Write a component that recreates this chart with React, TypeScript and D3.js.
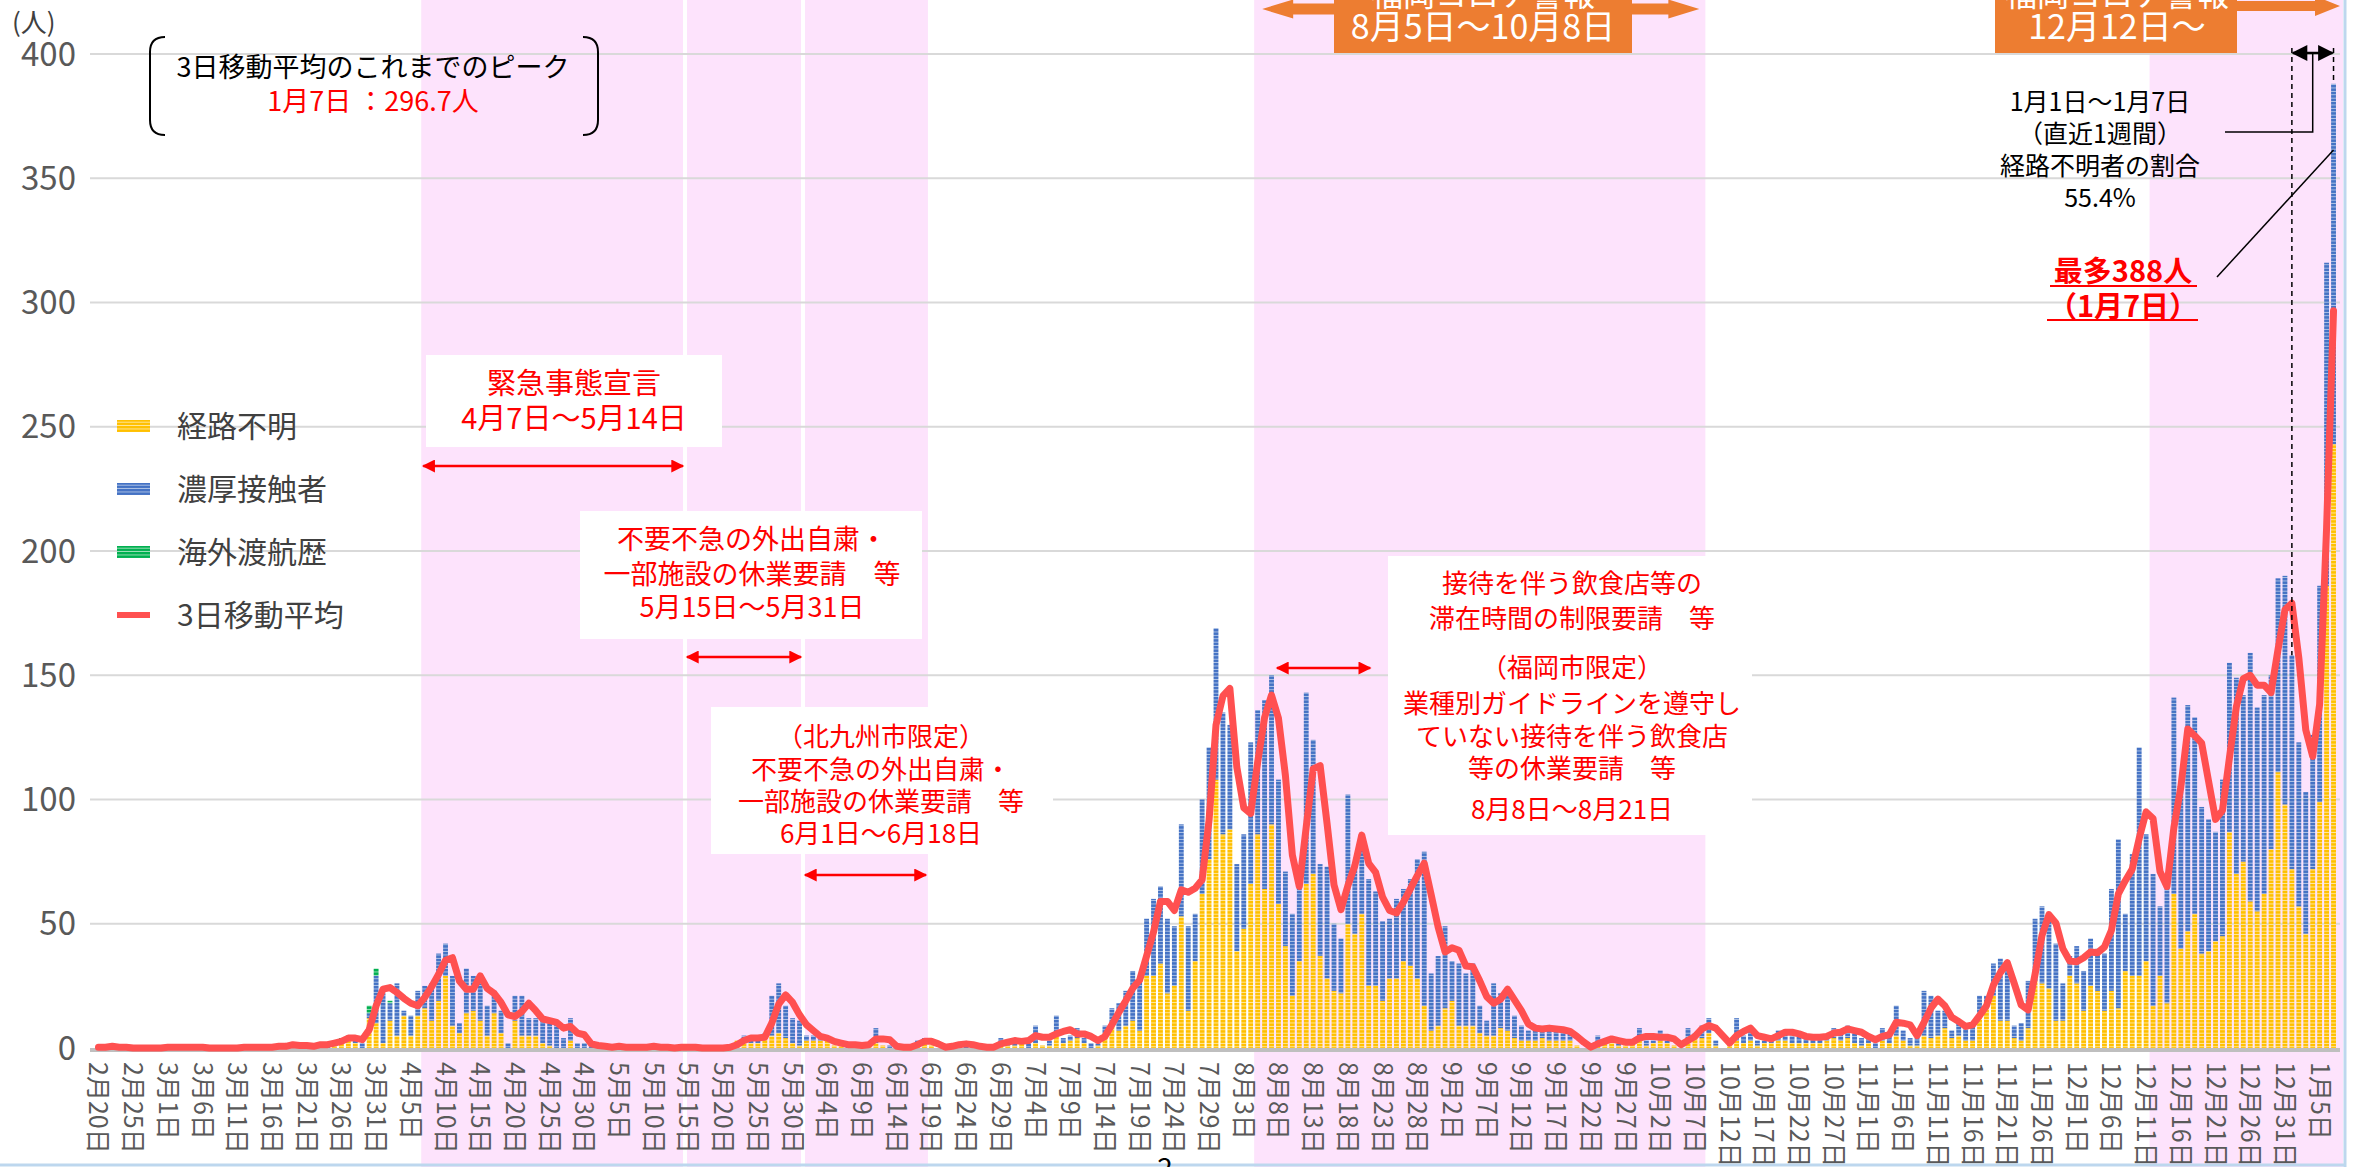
import { useMemo } from "react";
import * as d3 from "d3";

const WIDTH = 2358;
const HEIGHT = 1167;
const PLOT = { left: 95, right: 2337, top: 54, bottom: 1048 };

const FIRST_DAY = new Date(2020, 1, 20);
const LAST_DAY = new Date(2021, 0, 7);

// 経路不明 : one value per day, Feb 20 2020 -> Jan 7 2021
const unknownCases = [
  // Feb
  1, 0, 0, 0, 0, 0, 0, 0, 0, 0,
  // Mar
  1, 0, 0, 0, 0, 0, 0, 0, 0, 0, 0, 1, 0, 0, 0, 0, 1, 0, 1, 0, 0, 1, 1, 0, 2, 2, 3, 2, 0, 12, 10,
  // Apr
  2, 11, 5, 13, 5, 13, 16, 11, 19, 29, 9, 6, 14, 15, 11, 5, 14, 6, 0, 11, 5, 5, 5, 2, 1, 0, 0, 3, 0, 0,
  // May
  0, 0, 1, 0, 0, 0, 0, 1, 0, 0, 0, 0, 0, 1, 0, 0, 0, 0, 0, 0, 1, 3, 3, 2, 2, 4, 5, 6, 4, 2, 1,
  // Jun
  3, 3, 3, 3, 1, 2, 0, 1, 1, 1, 2, 1, 0, 0, 0, 1, 2, 2, 1, 0, 0, 2, 1, 0, 1, 0, 0, 0, 1, 1,
  // Jul
  1, 2, 0, 2, 1, 1, 6, 2, 3, 4, 2, 0, 1, 6, 9, 7, 9, 11, 7, 29, 29, 34, 22, 25, 53, 15, 35, 62, 76, 108, 86,
  // Aug
  88, 39, 48, 66, 86, 64, 90, 58, 41, 21, 35, 66, 70, 37, 28, 23, 22, 50, 46, 54, 25, 25, 19, 28, 28, 35, 33, 28, 17, 7, 9,
  // Sep
  16, 19, 9, 9, 9, 6, 5, 5, 8, 7, 4, 3, 3, 3, 4, 3, 3, 3, 3, 1, 0, 0, 2, 2, 2, 1, 1, 2, 3, 1,
  // Oct
  2, 3, 2, 1, 0, 4, 4, 4, 6, 1, 0, 2, 3, 2, 3, 1, 2, 2, 3, 3, 2, 2, 2, 2, 2, 3, 4, 3, 4, 2, 1,
  // Nov
  2, 0, 3, 2, 5, 3, 1, 1, 5, 4, 5, 8, 4, 5, 3, 3, 13, 16, 21, 11, 11, 4, 3, 8, 27, 26, 24, 11, 11, 29,
  // Dec
  26, 15, 25, 23, 15, 23, 16, 31, 29, 29, 35, 17, 29, 18, 62, 40, 47, 54, 38, 39, 43, 45, 87, 70, 75, 59, 55, 62, 80, 111, 98,
  // Jan
  72, 57, 46, 72, 99, 186, 243,
];

// 濃厚接触者
const contactCases = [
  // Feb
  0, 0, 1, 0, 0, 0, 0, 0, 0, 0,
  // Mar
  0, 0, 0, 1, 0, 0, 0, 0, 0, 0, 0, 0, 0, 0, 1, 0, 0, 1, 1, 0, 1, 0, 1, 1, 1, 1, 0, 1, 2, 2, 19,
  // Apr
  20, 7, 21, 2, 8, 10, 9, 15, 19, 13, 20, 4, 18, 14, 15, 12, 9, 9, 2, 10, 16, 7, 7, 9, 9, 10, 4, 9, 2, 2,
  // May
  1, 0, 0, 0, 1, 0, 0, 0, 0, 1, 0, 0, 0, 0, 0, 0, 0, 0, 0, 0, 0, 0, 2, 2, 1, 2, 16, 20, 13, 10, 10,
  // Jun
  2, 2, 1, 0, 0, 0, 1, 0, 0, 1, 6, 0, 1, 0, 0, 0, 1, 2, 0, 0, 0, 0, 1, 1, 0, 0, 0, 1, 3, 1,
  // Jul
  2, 1, 3, 7, 0, 2, 7, 2, 2, 4, 2, 2, 2, 3, 7, 11, 14, 20, 21, 23, 31, 31, 30, 24, 37, 34, 19, 38, 45, 61, 49,
  // Aug
  42, 35, 38, 57, 50, 76, 60, 50, 30, 33, 35, 77, 54, 37, 45, 27, 22, 52, 28, 27, 43, 38, 32, 24, 32, 29, 35, 48, 62, 23, 28,
  // Sep
  33, 16, 25, 21, 25, 11, 6, 21, 14, 16, 9, 6, 4, 5, 4, 5, 4, 4, 3, 0, 0, 0, 3, 1, 1, 2, 0, 1, 5, 2,
  // Oct
  1, 4, 1, 0, 0, 4, 2, 5, 6, 2, 0, 1, 9, 3, 4, 2, 1, 3, 4, 4, 3, 3, 2, 2, 3, 2, 4, 3, 5, 4, 3,
  // Nov
  2, 2, 5, 4, 12, 4, 3, 3, 18, 17, 10, 7, 3, 5, 6, 6, 8, 5, 13, 25, 22, 5, 7, 19, 25, 31, 28, 31, 15, 8,
  // Dec
  15, 16, 19, 17, 23, 41, 68, 23, 49, 92, 51, 53, 28, 50, 79, 66, 91, 79, 59, 53, 44, 63, 68, 79, 67, 100, 82, 80, 70, 78, 92,
  // Jan
  86, 66, 57, 54, 87, 130, 145,
];

// 海外渡航歴 (only late March / early April are non-zero)
const overseasByDate: [string, number][] = [
  ["2020-03-26", 1],
  ["2020-03-27", 2],
  ["2020-03-30", 3],
  ["2020-03-31", 3],
  ["2020-04-02", 1],
];

const SERIES = [
  { key: "unknown", label: "経路不明", fill: "url(#pYellow)" },
  { key: "contact", label: "濃厚接触者", fill: "url(#pBlue)" },
  { key: "overseas", label: "海外渡航歴", fill: "url(#pGreen)" },
];

const Y_TICKS = [0, 50, 100, 150, 200, 250, 300, 350, 400];

// pink periods (request / alert periods)
const shadedPeriods: [string, string][] = [
  ["2020-04-07", "2020-05-14"],
  ["2020-05-15", "2020-05-31"],
  ["2020-06-01", "2020-06-18"],
  ["2020-08-05", "2020-10-08"],
  ["2020-12-12", "2021-01-07"],
];

const requestArrows = [
  { from: "2020-04-07", to: "2020-05-14", y: 466 },
  { from: "2020-05-15", to: "2020-05-31", y: 657 },
  { from: "2020-06-01", to: "2020-06-18", y: 875 },
  { from: "2020-08-08", to: "2020-08-21", y: 668 },
];

const RED = "#ff0000";
const LINE_RED = "#ff5050";
const ORANGE = "#ed7d31";
const FONT = "'Noto Sans CJK JP', 'Noto Sans', sans-serif";

const parse = d3.timeParse("%Y-%m-%d");
const fmtTick = d3.timeFormat("%-m月%-d日");

export default function App() {
  const days = useMemo(() => d3.timeDay.range(FIRST_DAY, d3.timeDay.offset(LAST_DAY, 1)), []);
  const dayIndex = (s: string) => d3.timeDay.count(FIRST_DAY, parse(s) as Date);

  const rows = useMemo(() => {
    const overseas = new Array(days.length).fill(0);
    overseasByDate.forEach(([d, v]) => (overseas[dayIndex(d)] = v));
    return days.map((d, i) => ({
      i,
      unknown: unknownCases[i] ?? 0,
      contact: contactCases[i] ?? 0,
      overseas: overseas[i],
    }));
  }, [days]);

  const totals = rows.map((r) => r.unknown + r.contact + r.overseas);
  const movingAvg = totals.map((_, i) => d3.sum(totals.slice(Math.max(0, i - 2), i + 1)) / 3);

  const xScale = d3
    .scaleBand<number>()
    .domain(d3.range(days.length))
    .range([PLOT.left, PLOT.right])
    .paddingInner(0.3)
    .paddingOuter(0.15);
  const step = xScale.step();
  const cellLeft = (i: number) => (xScale(i) as number) - step * 0.15;
  const cellRight = (i: number) => cellLeft(i) + step;
  const xMid = (i: number) => (xScale(i) as number) + xScale.bandwidth() / 2;

  const yScale = d3.scaleLinear().domain([0, 400]).range([PLOT.bottom, PLOT.top]);

  const stacked = d3.stack<any>().keys(SERIES.map((s) => s.key))(rows);

  const linePath = d3
    .line<number>()
    .x((_, i) => xMid(i))
    .y((d) => yScale(d))(movingAvg);

  const tickDays = d3.range(0, days.length, 5);

  const alert1 = { l: cellLeft(dayIndex("2020-08-05")), r: cellRight(dayIndex("2020-10-08")) };
  const jan1 = dayIndex("2021-01-01");
  const jan7 = dayIndex("2021-01-07");

  const arrowPoly = (x0: number, x1: number, yc: number, sh: number, hh: number, hl: number) =>
    `M${x0},${yc} L${x0 + hl},${yc - hh} L${x0 + hl},${yc - sh} L${x1 - hl},${yc - sh} L${x1 - hl},${yc - hh} L${x1},${yc} L${x1 - hl},${yc + hh} L${x1 - hl},${yc + sh} L${x0 + hl},${yc + sh} L${x0 + hl},${yc + hh} Z`;

  return (
    <svg
      width={WIDTH}
      height={HEIGHT}
      style={{ position: "absolute", left: 0, top: 0, background: "#ffffff" }}
      fontFamily={FONT}
    >
      <defs>
        <pattern id="pYellow" width="10" height="3.4" patternUnits="userSpaceOnUse">
          <rect width="10" height="3.4" fill="#ffc000" />
          <rect y="2.5" width="10" height="0.9" fill="#ffe9a8" />
        </pattern>
        <pattern id="pBlue" width="10" height="3.4" patternUnits="userSpaceOnUse">
          <rect width="10" height="3.4" fill="#4472c4" />
          <rect y="2.5" width="10" height="0.9" fill="#b4c7e7" />
        </pattern>
        <pattern id="pGreen" width="10" height="3.4" patternUnits="userSpaceOnUse">
          <rect width="10" height="3.4" fill="#00b050" />
          <rect y="2.5" width="10" height="0.9" fill="#a9e2c0" />
        </pattern>
        <marker id="redHead" viewBox="0 0 10 10" refX="9" refY="5" markerWidth="16" markerHeight="13"
          markerUnits="userSpaceOnUse" orient="auto-start-reverse">
          <path d="M0,0 L10,5 L0,10 Z" fill={RED} />
        </marker>
        <marker id="blackHead" viewBox="0 0 10 10" refX="9" refY="5" markerWidth="18" markerHeight="16"
          markerUnits="userSpaceOnUse" orient="auto-start-reverse">
          <path d="M0,0 L10,5 L0,10 Z" fill="#000" />
        </marker>
      </defs>

      {/* pink periods */}
      {shadedPeriods.map(([a, b], k) => {
        const l = cellLeft(dayIndex(a)) + (k === 1 || k === 2 ? 2 : 0);
        const r = k === shadedPeriods.length - 1 ? 2343 : cellRight(dayIndex(b)) - (k === 0 || k === 1 ? 2 : 0);
        return <rect key={k} x={l} y={0} width={r - l} height={HEIGHT} fill="#fde3fc" />;
      })}

      {/* grid */}
      {Y_TICKS.filter((t) => t > 0).map((t) => (
        <line key={t} x1={90} x2={2340} y1={yScale(t)} y2={yScale(t)} stroke="#d9d9d9" strokeWidth={2} />
      ))}

      {/* white annotation boxes */}
      <rect x={426} y={355} width={296} height={92} fill="#fff" />
      <rect x={580} y={511} width={342} height={128} fill="#fff" />
      <rect x={711} y={707} width={342} height={147} fill="#fff" />
      <rect x={1388} y={556} width={364} height={279} fill="#fff" />

      {/* bars */}
      {stacked.map((layer, si) => (
        <g key={layer.key} fill={SERIES[si].fill}>
          {layer.map((d, i) =>
            d[1] - d[0] > 0 ? (
              <rect
                key={i}
                x={xScale(i)}
                y={yScale(d[1])}
                width={xScale.bandwidth()}
                height={yScale(d[0]) - yScale(d[1])}
              />
            ) : null
          )}
        </g>
      ))}

      {/* axis baseline */}
      <line x1={90} x2={2340} y1={PLOT.bottom + 2} y2={PLOT.bottom + 2} stroke="#bfbfbf" strokeWidth={4} />

      {/* 3-day moving average */}
      <path d={linePath ?? ""} fill="none" stroke={LINE_RED} strokeWidth={7} strokeLinejoin="round" strokeLinecap="round" />

      {/* y axis */}
      <text x={12} y={32} fontSize={26} fill="#404040">(人)</text>
      {Y_TICKS.map((t) => (
        <text key={t} x={76} y={yScale(t)} dy="0.35em" textAnchor="end" fontSize={33} fill="#595959">
          {t}
        </text>
      ))}

      {/* x axis labels */}
      {tickDays.map((i) => (
        <text
          key={i}
          transform={`translate(${xMid(i)},1062) rotate(90)`}
          dy="0.36em"
          fontSize={25}
          fill="#595959"
        >
          {fmtTick(days[i])}
        </text>
      ))}

      {/* legend */}
      {SERIES.map((s, k) => (
        <g key={s.key} transform={`translate(117,${426 + k * 63})`}>
          <rect x={0} y={-6} width={33} height={12} fill={s.fill} />
          <text x={60} y={0} dy="0.35em" fontSize={30} fill="#404040">{s.label}</text>
        </g>
      ))}
      <g transform="translate(117,615)">
        <line x1={0} x2={33} y1={0} y2={0} stroke={LINE_RED} strokeWidth={6} />
        <text x={60} y={0} dy="0.35em" fontSize={30} fill="#404040">3日移動平均</text>
      </g>

      {/* peak note */}
      <path d="M165,37 Q150,37 150,52 L150,120 Q150,135 165,135" fill="none" stroke="#000" strokeWidth={2} />
      <path d="M583,37 Q598,37 598,52 L598,120 Q598,135 583,135" fill="none" stroke="#000" strokeWidth={2} />
      <text x={373} y={77} textAnchor="middle" fontSize={27} fill="#000">3日移動平均のこれまでのピーク</text>
      <text x={373} y={111} textAnchor="middle" fontSize={27} fill={RED}>1月7日 ：296.7人</text>

      {/* request annotations */}
      <g textAnchor="middle" fill={RED}>
        <text x={574} y={394} fontSize={29}>緊急事態宣言</text>
        <text x={574} y={429} fontSize={29}>4月7日～5月14日</text>

        <text x={752} y={549} fontSize={27}>不要不急の外出自粛・</text>
        <text x={752} y={584} fontSize={27}>一部施設の休業要請　等</text>
        <text x={752} y={617} fontSize={27}>5月15日～5月31日</text>

        <text x={881} y={746} fontSize={26}>（北九州市限定）</text>
        <text x={881} y={779} fontSize={26}>不要不急の外出自粛・</text>
        <text x={881} y={811} fontSize={26}>一部施設の休業要請　等</text>
        <text x={881} y={843} fontSize={26}>6月1日～6月18日</text>

        <text x={1572} y={593} fontSize={26}>接待を伴う飲食店等の</text>
        <text x={1572} y={628} fontSize={26}>滞在時間の制限要請　等</text>
        <text x={1572} y={677} fontSize={26}>（福岡市限定）</text>
        <text x={1572} y={713} fontSize={26}>業種別ガイドラインを遵守し</text>
        <text x={1572} y={746} fontSize={26}>ていない接待を伴う飲食店</text>
        <text x={1572} y={778} fontSize={26}>等の休業要請　等</text>
        <text x={1572} y={819} fontSize={26}>8月8日～8月21日</text>
      </g>
      {requestArrows.map((a, k) => (
        <line
          key={k}
          x1={cellLeft(dayIndex(a.from)) + 2}
          x2={cellRight(dayIndex(a.to)) - 2}
          y1={a.y}
          y2={a.y}
          stroke={RED}
          strokeWidth={2.5}
          markerStart="url(#redHead)"
          markerEnd="url(#redHead)"
        />
      ))}

      {/* alert banners (top line is cut by the slide edge, as in the original) */}
      <path d={arrowPoly(alert1.l + 8, alert1.r - 6, 9, 5.5, 9.5, 31)} fill={ORANGE} />
      <rect x={1334} y={0} width={298} height={53} fill={ORANGE} />
      <text x={1483} y={6} textAnchor="middle" fontSize={32} fill="#fff">福岡コロナ警報</text>
      <text x={1483} y={39} textAnchor="middle" fontSize={34} fill="#fff">8月5日～10月8日</text>

      <path d="M2230,1 L2315,1 L2315,-4 L2340,6 L2315,16 L2315,11 L2230,11 Z" fill={ORANGE} />
      <rect x={1995} y={0} width={242} height={53} fill={ORANGE} />
      <text x={2117} y={6} textAnchor="middle" fontSize={32} fill="#fff">福岡コロナ警報</text>
      <text x={2117} y={39} textAnchor="middle" fontSize={34} fill="#fff">12月12日～</text>

      {/* last-week note */}
      <line x1={xMid(jan1)} x2={xMid(jan1)} y1={48} y2={yScale(totals[jan1])} stroke="#000" strokeWidth={1.5} strokeDasharray="5 4" />
      <line x1={xMid(jan7)} x2={xMid(jan7)} y1={48} y2={yScale(totals[jan7])} stroke="#000" strokeWidth={1.5} strokeDasharray="5 4" />
      <line x1={xMid(jan1) + 1} x2={xMid(jan7) - 1} y1={53} y2={53} stroke="#000" strokeWidth={2.5}
        markerStart="url(#blackHead)" markerEnd="url(#blackHead)" />
      <path d={`M${(xMid(jan1) + xMid(jan7)) / 2},54 L${(xMid(jan1) + xMid(jan7)) / 2},132 L2225,132`} fill="none" stroke="#000" strokeWidth={1.5} />
      <g textAnchor="middle" fill="#000" fontSize={25}>
        <text x={2100} y={111}>1月1日～1月7日</text>
        <text x={2100} y={143}>（直近1週間）</text>
        <text x={2100} y={175}>経路不明者の割合</text>
        <text x={2100} y={207}>55.4%</text>
      </g>
      <line x1={2217} y1={277} x2={xMid(jan7)} y2={150} stroke="#000" strokeWidth={1.5} />
      <g textAnchor="middle" fill={RED} fontSize={29} fontWeight="bold">
        <text x={2123} y={282}>最多388人</text>
        <text x={2123} y={317}>（1月7日）</text>
      </g>
      <line x1={2050} x2={2197} y1={286} y2={286} stroke={RED} strokeWidth={2} />
      <line x1={2047} x2={2198} y1={320} y2={320} stroke={RED} strokeWidth={2} />

      {/* slide frame + page number */}
      <line x1={2345} x2={2345} y1={0} y2={HEIGHT} stroke="#bdd7ee" strokeWidth={3} />
      <line x1={0} x2={2345} y1={1165} y2={1165} stroke="#bdd7ee" strokeWidth={3} />
      <text x={1165} y={1178} textAnchor="middle" fontSize={28} fill="#000">2</text>
    </svg>
  );
}
